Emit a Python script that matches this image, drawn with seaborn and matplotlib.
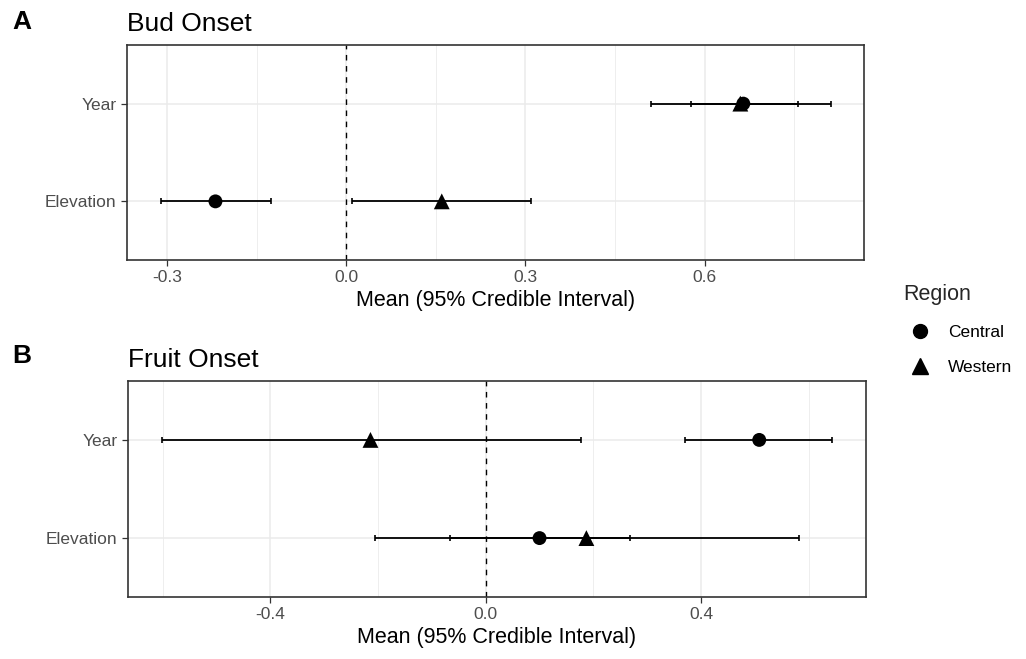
import matplotlib
matplotlib.use("Agg")
import matplotlib.pyplot as plt
from matplotlib.lines import Line2D
import numpy as np
import pandas as pd
import seaborn as sns

# Model terms (top to bottom on each panel)
terms = ["Year", "Elevation"]
regions = ["Central", "Western"]

# Bud onset: posterior means and 95% credible interval bounds
bud_central_mean = [0.665, -0.219]
bud_central_lo = [0.578, -0.311]
bud_central_hi = [0.757, -0.126]
bud_western_mean = [0.660, 0.160]
bud_western_lo = [0.511, 0.0095]
bud_western_hi = [0.811, 0.310]

# Fruit onset: posterior means and 95% credible interval bounds
fruit_central_mean = [0.508, 0.100]
fruit_central_lo = [0.371, -0.067]
fruit_central_hi = [0.644, 0.268]
fruit_western_mean = [-0.214, 0.187]
fruit_western_lo = [-0.602, -0.206]
fruit_western_hi = [0.177, 0.582]

bud_ticks = [-0.3, 0.0, 0.3, 0.6]
fruit_ticks = [-0.4, 0.0, 0.4]


def build_frame(cm, clo, chi, wm, wlo, whi):
    rows = []
    for reg, m, lo, hi in (("Central", cm, clo, chi), ("Western", wm, wlo, whi)):
        for t, a, b, c in zip(terms, m, lo, hi):
            rows.append({"Term": t, "Region": reg, "mean": a, "lo": b, "hi": c})
    return pd.DataFrame(rows)


bud = build_frame(bud_central_mean, bud_central_lo, bud_central_hi,
                  bud_western_mean, bud_western_lo, bud_western_hi)
fruit = build_frame(fruit_central_mean, fruit_central_lo, fruit_central_hi,
                    fruit_western_mean, fruit_western_lo, fruit_western_hi)

sns.set_theme(style="white")
plt.rcParams["font.family"] = ["Liberation Sans", "DejaVu Sans"]
plt.rcParams["axes.unicode_minus"] = False

fig = plt.figure(figsize=(10.26, 6.59), dpi=100)
ax_a = fig.add_axes([127 / 1026, 1 - 260 / 659, 737 / 1026, 215 / 659])
ax_b = fig.add_axes([128 / 1026, 1 - 597 / 659, 738 / 1026, 216 / 659])

ypos = {"Elevation": 1, "Year": 2}
markers = {"Central": "o", "Western": "^"}
sizes = {"Central": 100, "Western": 130}
grid_col = "#EBEBEB"
frame_col = "#333333"
tick_col = "#4D4D4D"


def draw_panel(ax, df, ticks, title, tag, tag_y):
    df = df.copy()
    df["y"] = df["Term"].map(ypos)

    ax.axvline(0, color="black", linestyle=(0, (4, 4)), linewidth=1.0, zorder=1)

    for reg in regions:
        sub = df[df["Region"] == reg]
        ax.errorbar(sub["mean"], sub["y"],
                    xerr=[sub["mean"] - sub["lo"], sub["hi"] - sub["mean"]],
                    fmt="none", ecolor="black", elinewidth=1.3,
                    capsize=2.5, capthick=1.2, zorder=2)

    sns.scatterplot(data=df, x="mean", y="y", style="Region", markers=markers,
                    size="Region", sizes=sizes, color="black", edgecolor="black",
                    linewidth=0, legend=False, ax=ax, zorder=3)

    # limits: 5% padding around the interval extent, discrete-style padding on y
    lo_all, hi_all = df["lo"].min(), df["hi"].max()
    pad = 0.05 * (hi_all - lo_all)

    ax.set_xticks(ticks)
    step = ticks[1] - ticks[0]
    minor = [t + step / 2 for t in [ticks[0] - step] + list(ticks)]
    ax.set_xticks(minor, minor=True)
    ax.set_xlim(lo_all - pad, hi_all + pad)
    ax.set_ylim(0.4, 2.6)
    ax.set_yticks([1, 2])
    ax.set_yticklabels(["Elevation", "Year"])
    ax.grid(True, which="major", color=grid_col, linewidth=1.1, zorder=0)
    ax.grid(True, which="minor", axis="x", color=grid_col, linewidth=0.6, zorder=0)
    ax.set_axisbelow(True)

    for s in ax.spines.values():
        s.set_color(frame_col)
        s.set_linewidth(1.2)
        s.set_visible(True)
    ax.tick_params(axis="both", which="major", length=4.5, width=0.9,
                   color=frame_col, labelcolor=tick_col, labelsize=12.5,
                   bottom=True, left=True, pad=3)
    ax.tick_params(axis="x", which="minor", length=0)
    ax.xaxis.set_major_formatter(matplotlib.ticker.FormatStrFormatter("%.1f"))
    ax.set_xlabel("Mean (95% Credible Interval)", fontsize=15.5, color="black",
                  labelpad=3)
    ax.set_ylabel("")
    ax.set_title(title, loc="left", fontsize=19, color="black", pad=10)
    ax.text(12 / 1026, tag_y, tag, transform=fig.transFigure, color="black",
            fontsize=19, fontweight="bold", ha="left", va="center")


draw_panel(ax_a, bud, bud_ticks, "Bud Onset", "A", 1 - 22 / 659)
draw_panel(ax_b, fruit, fruit_ticks, "Fruit Onset", "B", 1 - 356 / 659)

handles = [Line2D([], [], marker="o", color="black", linestyle="none", markersize=10),
           Line2D([], [], marker="^", color="black", linestyle="none", markersize=11)]
fig.legend(handles, regions, title="Region", loc="upper left",
           bbox_to_anchor=(896 / 1026, 1 - 277 / 659), frameon=False,
           fontsize=12.5, title_fontsize=15.5, handletextpad=0.6,
           labelspacing=1.15, borderaxespad=0, alignment="left",
           labelcolor="black")

fig.savefig("out.png", dpi=100)
